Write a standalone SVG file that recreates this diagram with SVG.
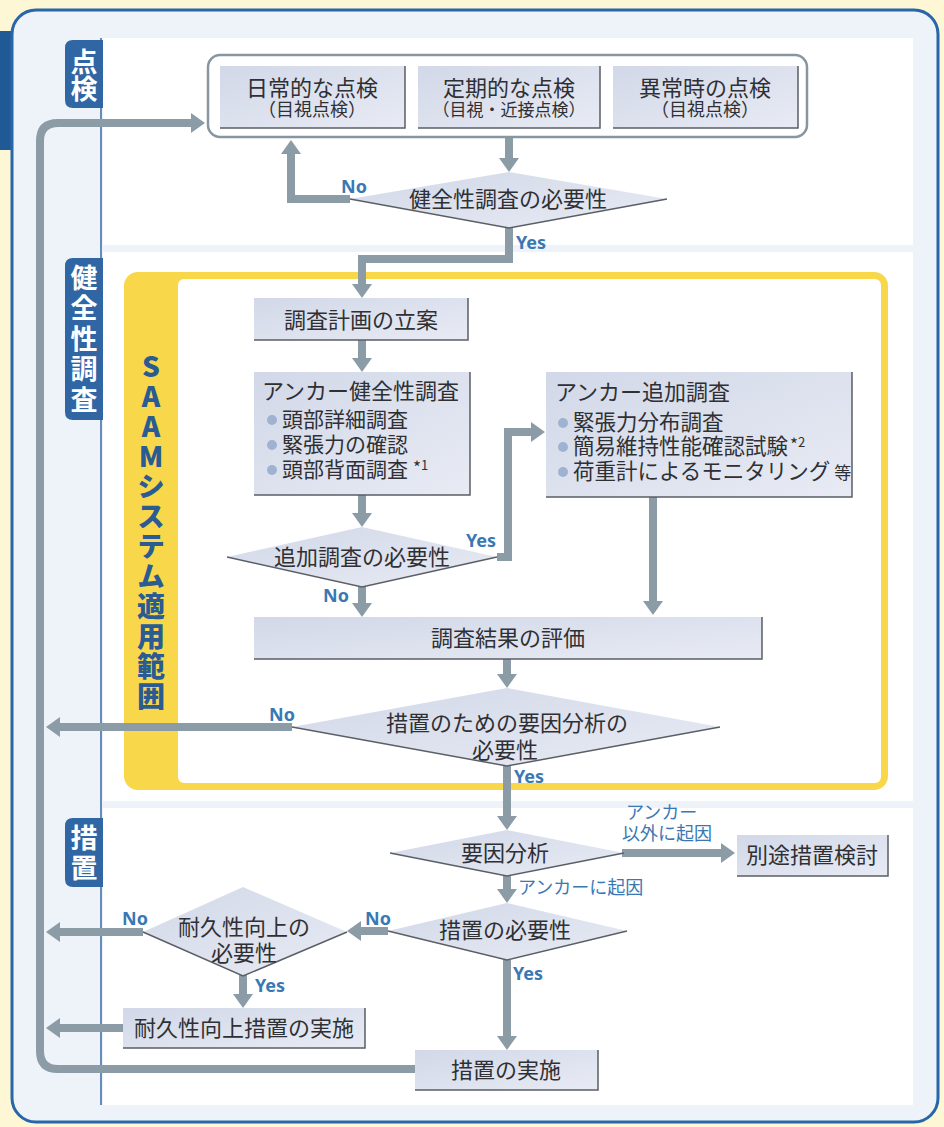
<svg xmlns="http://www.w3.org/2000/svg" width="944" height="1127" viewBox="0 0 944 1127">
<defs>
<style>
.t{font-family:'Noto Sans CJK JP','Noto Sans CJK SC',sans-serif;fill:#2f3034}
.b{font-size:22px;text-anchor:middle}
.s{font-size:18px}
.li{font-size:21px}
.sup{font-size:13px}
.ast{font-size:17px}
.lbl{font-family:'Noto Sans','Open Sans',sans-serif;font-weight:700;font-size:18px;fill:#3a78b4}
.jl{font-family:'Noto Sans CJK JP','Noto Sans CJK SC',sans-serif;font-size:18px;fill:#3a78b4}
.tab{font-family:'Noto Sans CJK JP','Noto Sans CJK SC',sans-serif;font-weight:700;font-size:27px;fill:#ffffff;writing-mode:vertical-rl;text-orientation:upright}
.saam{font-family:'Noto Sans CJK JP','Noto Sans CJK SC',sans-serif;font-weight:900;font-size:28px;fill:#2a5b92;writing-mode:vertical-rl;text-orientation:upright;letter-spacing:2px}
.box{fill:url(#g)}
.edge{fill:none;stroke:#5a5f66;stroke-width:1.5}
.dia{fill:url(#g)}
.con{fill:none;stroke:#8c9ca6;stroke-width:8;marker-end:url(#ah)}
.dot{fill:#9fb2d2}
.tabbg{fill:#2f66a3}
</style>
<linearGradient id="g" x1="0" y1="0" x2="1" y2="1">
<stop offset="0" stop-color="#d2d8e8"/>
<stop offset="1" stop-color="#e8ebf4"/>
</linearGradient>
<marker id="ah" markerUnits="userSpaceOnUse" viewBox="0 0 14 20" refX="4" refY="10" markerWidth="14" markerHeight="20" orient="auto">
<path d="M0,0L14,10L0,20z" fill="#8c9ca6"/>
</marker>
</defs>

<g id="background">
<rect x="0" y="0" width="944" height="1127" fill="#fdf7d6"/>
<rect x="0" y="31" width="14" height="119" fill="#1f5a96"/>
<rect x="12" y="10" width="926" height="1112" rx="24" fill="#eef2f9" stroke="#2766a8" stroke-width="3"/>
<rect x="103" y="38" width="810" height="207" fill="#ffffff"/>
<rect x="103" y="252" width="810" height="549" fill="#ffffff"/>
<rect x="103" y="808" width="810" height="297" fill="#ffffff"/>
<line x1="101" y1="38" x2="101" y2="1105" stroke="#3a6aa3" stroke-width="1.5"/>
</g>

<g id="tab-inspection">
<path class="tabbg" d="M103,40H73Q65,40 65,48V100Q65,108 73,108H103Z"/>
<text class="tab" x="84" y="48">点検</text>
</g>
<g id="tab-survey">
<path class="tabbg" d="M103,258H73Q65,258 65,266V412Q65,420 73,420H103Z"/>
<text class="tab" x="84" y="264" style="letter-spacing:3.5px">健全性調査</text>
</g>
<g id="tab-measure">
<path class="tabbg" d="M103,818H73Q65,818 65,826V879Q65,887 73,887H103Z"/>
<text class="tab" x="84" y="824" style="letter-spacing:3px">措置</text>
</g>

<g id="saam-frame">
<rect x="124" y="272" width="764" height="518" rx="14" fill="#f8d84a"/>
<rect x="178" y="279" width="703" height="504" rx="6" fill="#ffffff"/>
<text class="saam" x="151" y="352">SAAMシステム適用範囲</text>
</g>

<g id="connectors">
<path class="con" d="M509,138V162"/>
<path class="con" d="M350,199H291V150"/>
<path class="con" d="M509,228V259H362V288"/>
<path class="con" d="M362,340V362"/>
<path class="con" d="M362,495V517"/>
<path class="con" d="M497,557H508V432H535"/>
<path class="con" d="M362,585V607"/>
<path class="con" d="M653,497V605"/>
<path class="con" d="M507,659V678"/>
<path class="con" d="M292,727H56"/>
<path class="con" d="M507,765V820"/>
<path class="con" d="M622,853H725"/>
<path class="con" d="M507,876V893"/>
<path class="con" d="M388,931H357"/>
<path class="con" d="M143,932H56"/>
<path class="con" d="M243,975V998"/>
<path class="con" d="M123,1028H56"/>
<path class="con" d="M507,960V1040"/>
<path class="con" d="M415,1069H58Q40,1069 40,1051V141Q40,123 58,123H195"/>
</g>

<g id="labels">
<text class="lbl" x="341" y="193">No</text>
<text class="lbl" x="516" y="249">Yes</text>
<text class="lbl" x="466" y="547">Yes</text>
<text class="lbl" x="323" y="602">No</text>
<text class="lbl" x="269" y="721">No</text>
<text class="lbl" x="514" y="783">Yes</text>
<text class="jl"><tspan x="626" y="819">アンカー</tspan><tspan x="622" y="840">以外に起因</tspan></text>
<text class="jl" x="518" y="894">アンカーに起因</text>
<text class="lbl" x="365" y="925">No</text>
<text class="lbl" x="122" y="925">No</text>
<text class="lbl" x="255" y="992">Yes</text>
<text class="lbl" x="513" y="980">Yes</text>
</g>

<g id="inspection-group">
<rect x="208" y="55" width="599" height="82" rx="12" fill="#ffffff" stroke="#8796a0" stroke-width="2.5"/>
</g>
<g id="daily">
<rect class="box" x="220" y="66" width="185" height="62"/>
<polyline class="edge" points="405,66 405,128 220,128"/>
<text class="t b"><tspan x="312" y="96">日常的な点検</tspan><tspan class="s" x="312" y="116">（目視点検）</tspan></text>
</g>
<g id="periodic">
<rect class="box" x="418" y="66" width="182" height="62"/>
<polyline class="edge" points="600,66 600,128 418,128"/>
<text class="t b"><tspan x="509" y="96">定期的な点検</tspan><tspan x="509" y="116" style="font-size:17px">（目視・近接点検）</tspan></text>
</g>
<g id="abnormal">
<rect class="box" x="613" y="66" width="185" height="62"/>
<polyline class="edge" points="798,66 798,128 613,128"/>
<text class="t b"><tspan x="705" y="96">異常時の点検</tspan><tspan class="s" x="705" y="116">（目視点検）</tspan></text>
</g>

<g id="need-survey">
<polygon class="dia" points="509,172 667,199 509,228 350,199"/>
<polyline class="edge" points="350,199 509,228 667,199"/>
<text class="t b" x="508" y="207">健全性調査の必要性</text>
</g>

<g id="plan">
<rect class="box" x="254" y="298" width="214" height="42"/>
<polyline class="edge" points="468,298 468,340 254,340"/>
<text class="t b" x="361" y="328">調査計画の立案</text>
</g>

<g id="anchor-survey">
<rect class="box" x="254" y="372" width="216" height="123"/>
<polyline class="edge" points="470,372 470,495 254,495"/>
<circle class="dot" cx="272" cy="420" r="5"/>
<circle class="dot" cx="272" cy="445" r="5"/>
<circle class="dot" cx="272" cy="470" r="5"/>
<text class="t li"><tspan x="262" y="399" style="font-size:22px">アンカー健全性調査</tspan><tspan x="282" y="427">頭部詳細調査</tspan><tspan x="282" y="452">緊張力の確認</tspan><tspan x="282" y="477">頭部背面調査</tspan><tspan class="ast" dx="5" dy="-3">*</tspan><tspan class="sup" dy="-4">1</tspan></text>
</g>

<g id="additional-survey">
<rect class="box" x="546" y="372" width="306" height="125"/>
<polyline class="edge" points="852,372 852,497 546,497"/>
<circle class="dot" cx="563" cy="423" r="5"/>
<circle class="dot" cx="563" cy="447" r="5"/>
<circle class="dot" cx="563" cy="472" r="5"/>
<text class="t" style="font-size:21.5px"><tspan x="555" y="400" style="font-size:22px">アンカー追加調査</tspan><tspan x="573" y="430">緊張力分布調査</tspan><tspan x="573" y="454">簡易維持性能確認試験</tspan><tspan class="ast" dx="2" dy="-3">*</tspan><tspan class="sup" dy="-4">2</tspan><tspan x="573" y="479">荷重計によるモニタリング</tspan><tspan dx="4" style="font-size:17px">等</tspan></text>
</g>

<g id="need-additional">
<polygon class="dia" points="362,527 497,557 362,587 227,557"/>
<polyline class="edge" points="227,557 362,587 497,557"/>
<text class="t b" x="362" y="565">追加調査の必要性</text>
</g>

<g id="evaluation">
<rect class="box" x="254" y="617" width="508" height="42"/>
<polyline class="edge" points="762,617 762,659 254,659"/>
<text class="t b" x="508" y="646">調査結果の評価</text>
</g>

<g id="need-analysis">
<polygon class="dia" points="507,688 720,727 507,766 292,727"/>
<polyline class="edge" points="292,727 507,766 720,727"/>
<text class="t b"><tspan x="507" y="731">措置のための要因分析の</tspan><tspan x="505" y="758">必要性</tspan></text>
</g>

<g id="cause-analysis">
<polygon class="dia" points="507,830 624,853 507,876 390,853"/>
<polyline class="edge" points="390,853 507,876 624,853"/>
<text class="t b" x="505" y="861">要因分析</text>
</g>

<g id="separate-measure">
<rect class="box" x="737" y="835" width="151" height="41"/>
<polyline class="edge" points="888,835 888,876 737,876"/>
<text class="t b" x="812" y="863">別途措置検討</text>
</g>

<g id="need-measure">
<polygon class="dia" points="507,903 627,931 507,960 388,931"/>
<polyline class="edge" points="388,931 507,960 627,931"/>
<text class="t b" x="505" y="938">措置の必要性</text>
</g>

<g id="need-durability">
<polygon class="dia" points="243,887 347,932 243,976 143,932"/>
<polyline class="edge" points="143,932 243,976 347,932"/>
<text class="t b"><tspan x="244" y="935">耐久性向上の</tspan><tspan x="244" y="961">必要性</tspan></text>
</g>

<g id="durability-measure">
<rect class="box" x="123" y="1008" width="242" height="40"/>
<polyline class="edge" points="365,1008 365,1048 123,1048"/>
<text class="t b" x="244" y="1036">耐久性向上措置の実施</text>
</g>

<g id="measure">
<rect class="box" x="415" y="1050" width="183" height="40"/>
<polyline class="edge" points="598,1050 598,1090 415,1090"/>
<text class="t b" x="506" y="1078">措置の実施</text>
</g>
</svg>
